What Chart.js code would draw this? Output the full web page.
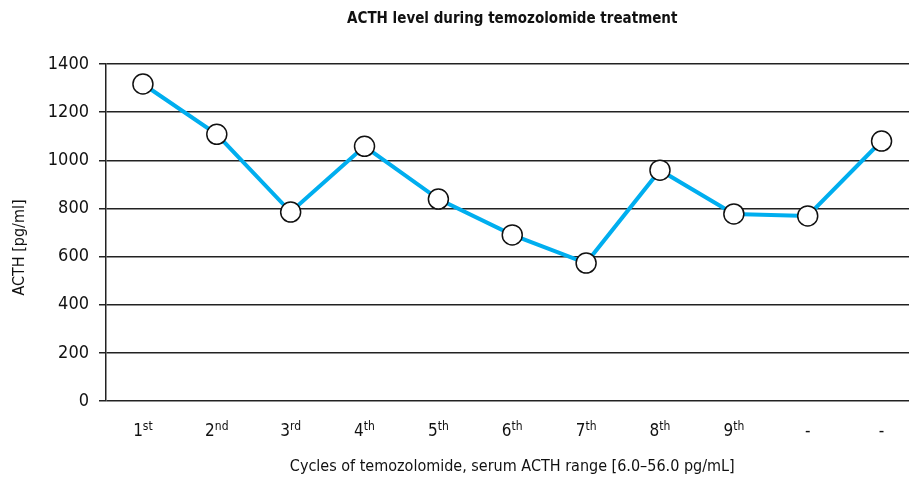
<!DOCTYPE html>
<html>
<head>
<meta charset="utf-8">
<script src="https://cdn.jsdelivr.net/npm/chart.js@4.4.1/dist/chart.umd.min.js"></script>
<style>
  html, body { margin: 0; padding: 0; background: #fff; overflow: hidden; }
  #wrap { width: 930px; height: 479px; }
</style>
</head>
<body>
<div id="wrap"><canvas id="chart" width="930" height="479"></canvas></div>
<script>
const FONT = '"Liberation Sans Narrow", "DejaVu Sans Condensed", "Arial Narrow", sans-serif';

// cycles of temozolomide (base + superscript suffix)
const cycleBase = ['1', '2', '3', '4', '5', '6', '7', '8', '9', '-', '-'];
const cycleSuffix = ['st', 'nd', 'rd', 'th', 'th', 'th', 'th', 'th', 'th', '', ''];
const cycleLabels = cycleBase.map((b, i) => b + cycleSuffix[i]);

// ACTH [pg/ml]
const acthValues = [1317, 1108, 785, 1058, 839, 690, 573, 959, 777, 769, 1080];

const yTicks = [0, 200, 400, 600, 800, 1000, 1200, 1400];
const yTitle = 'ACTH [pg/ml]';

// draws x labels with superscript suffixes at the scale's tick positions,
// and the y title a little below the middle of the axis like the original
const customText = {
    id: 'customText',
    afterDraw(chart) {
        const { ctx, scales: { x }, chartArea } = chart;
        const baseFont = '17px ' + FONT;
        const supFont = '12px ' + FONT;
        const y = chartArea.bottom + 35;
        ctx.save();
        ctx.fillStyle = '#111';
        ctx.textBaseline = 'alphabetic';
        ctx.textAlign = 'left';
        cycleBase.forEach((base, i) => {
            const cx = x.getPixelForTick(i);
            ctx.font = baseFont;
            const wb = ctx.measureText(base).width;
            ctx.font = supFont;
            const ws = ctx.measureText(cycleSuffix[i]).width;
            const start = cx - (wb + ws) / 2;
            ctx.font = baseFont;
            ctx.fillText(base, start, y);
            ctx.font = supFont;
            ctx.fillText(cycleSuffix[i], start + wb, y - 6);
        });
        ctx.translate(20, (chartArea.top + chartArea.bottom) / 2 + 15);
        ctx.rotate(-Math.PI / 2);
        ctx.textAlign = 'center';
        ctx.textBaseline = 'middle';
        ctx.font = '16px ' + FONT;
        ctx.fillText(yTitle, 0, 0);
        ctx.restore();
    }
};

new Chart(document.getElementById('chart').getContext('2d'), {
    type: 'line',
    data: {
        labels: cycleLabels,
        datasets: [{
            data: acthValues,
            borderColor: '#00aeef',
            borderWidth: 4,
            pointRadius: 10,
            pointBackgroundColor: '#fff',
            pointBorderColor: '#111',
            pointBorderWidth: 1.5,
            tension: 0
        }]
    },
    options: {
        responsive: false,
        animation: false,
        layout: { padding: 0 },
        plugins: {
            legend: { display: false },
            tooltip: { enabled: false },
            title: {
                display: true,
                fullSize: false,
                text: 'ACTH level during temozolomide treatment',
                color: '#111',
                font: { family: FONT, size: 15, weight: 'bold' },
                padding: { top: 10, bottom: 36 }
            }
        },
        scales: {
            x: {
                type: 'category',
                offset: true,
                grid: { display: false, drawTicks: false },
                border: { display: false },
                ticks: { color: 'rgba(0,0,0,0)', font: { family: FONT, size: 17 }, padding: 14 },
                title: {
                    display: true,
                    text: 'Cycles of temozolomide, serum ACTH range [6.0–56.0 pg/mL]',
                    color: '#111',
                    font: { family: FONT, size: 16 },
                    padding: { top: 0, bottom: 3 }
                },
                afterFit(scale) { scale.height = 78; }
            },
            y: {
                min: 0,
                max: 1400,
                afterBuildTicks(scale) { scale.ticks = yTicks.map(v => ({ value: v })); },
                grid: { color: '#222', lineWidth: 1.5, tickLength: 7 },
                border: { display: true, color: '#222', width: 1.5 },
                ticks: {
                    color: '#111',
                    font: { family: FONT, size: 18 },
                    padding: 10,
                    callback: v => String(v)
                },
                title: { display: false },
                afterFit(scale) { scale.width = 106; }
            }
        }
    },
    plugins: [customText]
});
</script>
</body>
</html>
